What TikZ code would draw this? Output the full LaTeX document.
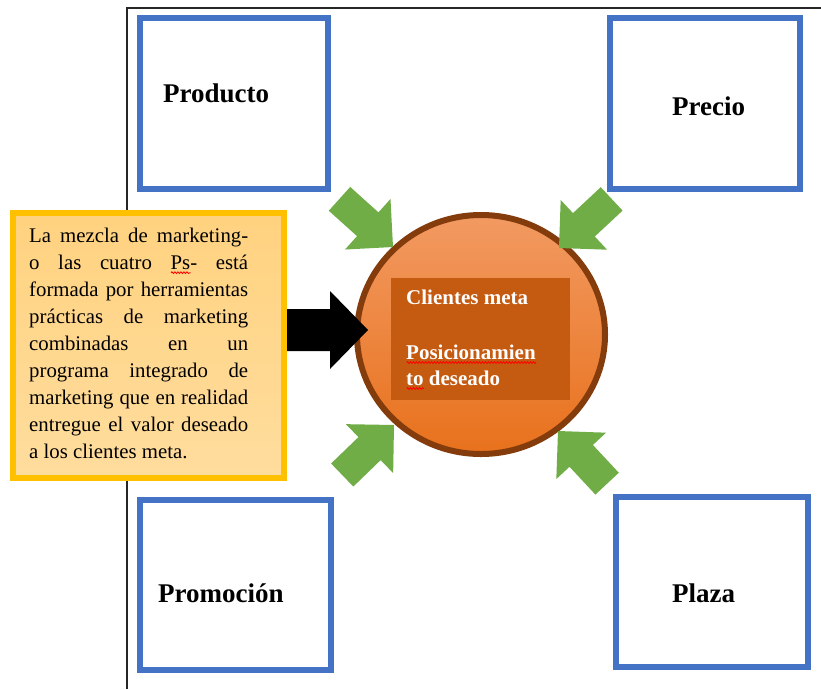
\documentclass[tikz,border=0pt]{standalone}
\usepackage{fontspec}
\setmainfont{Liberation Serif}
\usetikzlibrary{shapes.geometric,decorations.pathmorphing}

\definecolor{boxblue}{HTML}{4472C4}
\definecolor{leafgreen}{HTML}{70AD47}
\definecolor{ringbrown}{HTML}{843C0C}
\definecolor{coreorange}{HTML}{C55A11}
\definecolor{ballTop}{HTML}{F29A62}
\definecolor{ballBottom}{HTML}{E8711C}
\definecolor{noteedge}{HTML}{FFC000}
\definecolor{notetop}{HTML}{FFD27F}
\definecolor{notebottom}{HTML}{FFDD9E}

% red wavy spell-check underline below a word
\newcommand{\spellmark}[1]{\leavevmode\setbox0=\hbox{#1}%
  \rlap{\tikz[baseline=0pt]\draw[red, line width=0.8pt, decorate,
    decoration={snake, amplitude=0.9pt, segment length=3pt}]
    (0pt,-3.5pt) -- (\the\wd0,-3.5pt);}\box0\relax}

\tikzset{
  frameline/.style={draw=black!85, line width=1.5pt},
  mixbox/.style={draw=boxblue, line width=6pt, fill=white, inner sep=0pt},
  mixlabel/.style={font=\fontsize{27}{32}\selectfont\bfseries, inner sep=0pt, anchor=base west},
  coretext/.style={font=\fontsize{21}{27}\selectfont\bfseries, text=white, inner sep=0pt, anchor=base west},
  notebox/.style={draw=noteedge, line width=6pt, top color=notetop, bottom color=notebottom, inner sep=0pt},
  pusharrow/.pic={\fill[leafgreen] (0,0) -- (-34,34) -- (-34,16) -- (-72,16)
      -- (-72,-16) -- (-34,-16) -- (-34,-34) -- cycle;},
  leadarrow/.pic={\fill[black] (0,0) -- (-38,39) -- (-38,21) -- (-81,21)
      -- (-81,-21) -- (-38,-21) -- (-38,-39) -- cycle;},
}

\begin{document}
\begin{tikzpicture}[x=1pt,y=-1pt]
\useasboundingbox (0,0) rectangle (821,689);
\fill[white] (0,0) rectangle (821,689);

% outer frame (top and left sides)
\coordinate (frameTR) at (821,8);
\coordinate (frameTL) at (127,8);
\coordinate (frameBL) at (127,689);
\draw[frameline] (frameTR) -- (frameTL) -- (frameBL);

% the four Ps
\node[mixbox, minimum width=188pt, minimum height=171pt] (producto) at (234,103.5) {};
\node[mixbox, minimum width=190pt, minimum height=171pt] (precio) at (705,103.5) {};
\node[mixbox, minimum width=191pt, minimum height=170pt] (promocion) at (235.5,585) {};
\node[mixbox, minimum width=192pt, minimum height=170pt] (plaza) at (712,582) {};

\node[mixlabel] (producto-text) at (163,102) {Producto};
\node[mixlabel] (precio-text) at (672,115) {Precio};
\node[mixlabel] (promocion-text) at (158,602) {Promoción};
\node[mixlabel] (plaza-text) at (672,602) {Plaza};

% explanatory note
\node[notebox, minimum width=271pt, minimum height=265pt] (note) at (148.5,345.5) {};
\node[inner sep=0pt, anchor=north west, text width=219pt, align=justify,
      font=\fontsize{20.8}{27}\selectfont] (note-text) at (29,223.1)
  {\strut La mezcla de marketing-\linebreak
   o las cuatro \spellmark{Ps}- está\linebreak
   formada por herramientas\linebreak
   prácticas de marketing\linebreak
   combinadas en un\linebreak
   programa integrado de\linebreak
   marketing que en realidad\linebreak
   entregue el valor deseado\linebreak
   a los clientes meta.};

% target circle
\node[ellipse, draw=ringbrown, line width=6pt, top color=ballTop, bottom color=ballBottom,
      minimum width=248pt, minimum height=239pt, inner sep=0pt] (target) at (481,334.5) {};
\node[fill=coreorange, minimum width=179pt, minimum height=122pt, inner sep=0pt] (core) at (480.5,339) {};
\node[coretext] (core-line1) at (406,304) {Clientes meta};
\node[coretext] (core-line2) at (406,359) {\spellmark{Posicionamien}};
\node[coretext] (core-line3) at (406,385) {\spellmark{to} deseado};

% arrows pointing into the circle
\pic at (368,330) {leadarrow};
\pic[rotate=-42] at (393,247) {pusharrow};
\pic[rotate=-137] at (559,248) {pusharrow};
\pic[rotate=44] at (394,425) {pusharrow};
\pic[rotate=133] at (558,431) {pusharrow};
\end{tikzpicture}
\end{document}
